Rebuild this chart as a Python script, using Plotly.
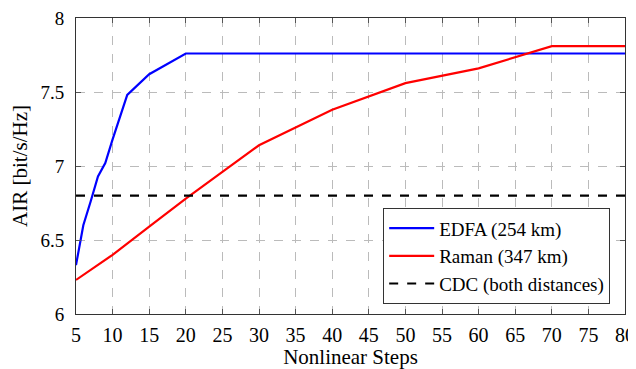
import plotly.graph_objects as go

edfa_x = [5, 6, 7, 8, 9, 10, 12, 15, 20, 30, 40, 50, 60, 70, 80]
edfa_y = [6.33, 6.6, 6.76, 6.93, 7.02, 7.18, 7.48, 7.62, 7.76, 7.76, 7.76, 7.76, 7.76, 7.76, 7.76]
raman_x = [5, 10, 15, 20, 25, 30, 40, 50, 60, 70, 80]
raman_y = [6.23, 6.4, 6.59, 6.78, 6.96, 7.14, 7.38, 7.56, 7.66, 7.81, 7.81]
cdc_x = [5, 80]
cdc_y = [6.8, 6.8]
x_ticks = list(range(5, 81, 5))
y_ticks = [6, 6.5, 7, 7.5, 8]
y_labels = ["6", "6.5", "7", "7.5", "8"]

font = "Liberation Serif, Times New Roman, serif"
fig = go.Figure()
fig.add_trace(go.Scatter(x=edfa_x, y=edfa_y, mode="lines", name="EDFA (254 km)",
                         line=dict(color="#0000ff", width=2.2)))
fig.add_trace(go.Scatter(x=raman_x, y=raman_y, mode="lines", name="Raman (347 km)",
                         line=dict(color="#ff0000", width=2.2)))
fig.add_trace(go.Scatter(x=cdc_x, y=cdc_y, mode="lines", name="CDC (both distances)",
                         line=dict(color="black", width=2.2, dash="dash")))

axis_common = dict(showline=True, linecolor="#333", linewidth=1, mirror="ticks",
                   ticks="inside", ticklen=5, tickcolor="#555", automargin=False,
                   ticklabeloverflow="allow",
                   showgrid=True, gridcolor="#bbbbbb", griddash="dash", gridwidth=1,
                   zeroline=False, tickfont=dict(family=font, size=20, color="black"))
fig.update_xaxes(range=[5, 80], tickvals=x_ticks, ticklabelstandoff=3,
                 title=dict(text="Nonlinear Steps", font=dict(family=font, size=21, color="black"), standoff=2),
                 **axis_common)
fig.update_yaxes(range=[6, 8], tickvals=y_ticks, ticktext=y_labels, ticklabelstandoff=7,
                 title=dict(text="AIR [bit/s/Hz]", font=dict(family=font, size=21, color="black"), standoff=14),
                 **axis_common)
fig.update_yaxes(tickfont=dict(family=font, size=19, color="black"))
fig.update_layout(
    width=628, height=361,
    margin=dict(l=68, r=11, t=10, b=55),
    plot_bgcolor="white", paper_bgcolor="white",
    font=dict(family=font, size=19, color="black"),
    legend=dict(x=0.973, y=0.033, xanchor="right", yanchor="bottom",
                bgcolor="white", bordercolor="#333", borderwidth=1,
                font=dict(family=font, size=19, color="black"),
                itemwidth=45, tracegroupgap=2),
    showlegend=True,
)
fig.write_html("out.html")
